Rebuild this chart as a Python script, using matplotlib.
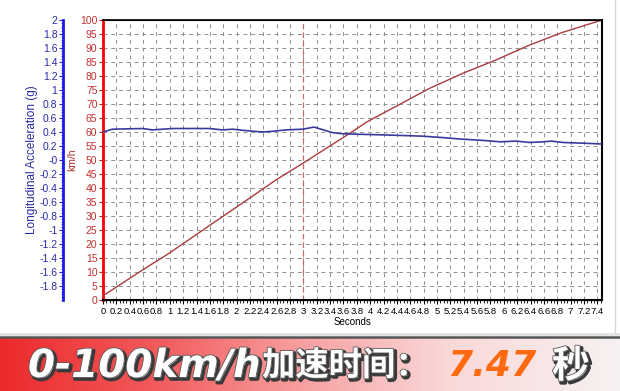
import numpy as np
import matplotlib
matplotlib.use('Agg')
import matplotlib.pyplot as plt
import matplotlib.patheffects as pe
from matplotlib.ticker import MultipleLocator, FormatStrFormatter
from matplotlib.colors import LinearSegmentedColormap
from matplotlib.lines import Line2D

# --- data ---
t_speed = [0, 0.59, 0.99, 1.79, 2.19, 2.59, 2.99, 3.66, 3.95, 4.89, 5.39, 5.88, 6.38, 6.87, 7.47]
speed_kmh = [1.5, 10.7, 16.7, 29.8, 36.3, 42.9, 48.8, 59.0, 63.6, 75.6, 81.0, 85.7, 91.0, 95.5, 100]

t_acc = [0, 0.14, 0.59, 0.74, 1.04, 1.59, 1.79, 1.94, 2.14, 2.39, 2.54, 2.74, 2.99, 3.16,
         3.44, 3.59, 3.74, 4.14, 4.49, 4.79, 5.09, 5.34, 5.69, 5.94, 6.19, 6.39, 6.59,
         6.71, 6.89, 7.19, 7.44, 7.47]
acc_g = [0.40, 0.44, 0.45, 0.43, 0.45, 0.45, 0.43, 0.44, 0.42, 0.40, 0.41, 0.43, 0.44, 0.47,
         0.39, 0.375, 0.37, 0.36, 0.35, 0.34, 0.32, 0.30, 0.28, 0.26, 0.27, 0.25, 0.26,
         0.27, 0.25, 0.24, 0.23, 0.23]

marker_t = 3.0
result_time = '7.47'

W, H = 620, 391
fig = plt.figure(figsize=(W / 100, H / 100), dpi=100)
fig.patch.set_facecolor('white')

# --- speed axis (main) ---
ax = fig.add_axes([103 / W, 91 / H, 499 / W, 280 / H])
ax.plot(t_speed, speed_kmh, color='#a83c40', lw=1.0, zorder=3)
ax.axvline(marker_t, color='#c86a6a', lw=0.9, ls=(0, (4, 3)), zorder=2)
ax.set_xlim(0, 7.47)
ax.set_ylim(0, 100)
ax.xaxis.set_major_locator(MultipleLocator(0.2))
ax.xaxis.set_minor_locator(MultipleLocator(0.05))
ax.xaxis.set_major_formatter(FormatStrFormatter('%g'))
ax.yaxis.set_major_locator(MultipleLocator(5))
ax.grid(True, color='#8f8f8f', ls=(0, (4, 4)), lw=0.7)
ax.tick_params(axis='x', labelsize=6.8, length=3, width=0.8, pad=2, colors='black')
ax.tick_params(axis='x', which='minor', length=2, width=0.6)
ax.tick_params(axis='y', labelsize=7.5, length=3, width=0.8, pad=1,
               colors='#b01e1e', labelcolor='#c03030')
for lab in ax.get_xticklabels():
    lab.set_fontfamily('Liberation Sans')
for lab in ax.get_yticklabels():
    lab.set_fontfamily('Liberation Sans')
ax.spines['left'].set_color('#ff0000')
ax.spines['left'].set_linewidth(2)
ax.spines['bottom'].set_linewidth(1.5)
ax.spines['top'].set_linewidth(1.2)
ax.spines['right'].set_linewidth(1.5)
ax.set_xlabel('Seconds', fontsize=7, family='Liberation Sans', labelpad=1)
ax.set_ylabel('km/h', fontsize=7.5, family='Liberation Sans', color='#b03030', labelpad=2)

# --- acceleration axis ---
ax2 = ax.twinx()
ax2.plot(t_acc, acc_g, color='#3a3a9e', lw=1.2, zorder=3)
ax2.set_ylim(-2, 2)
ax2.yaxis.set_ticks_position('left')
ax2.yaxis.set_label_position('left')
ax2.spines['right'].set_visible(False)
ax2.spines['left'].set_visible(True)
ax2.spines['left'].set_position(('outward', 28.8))
ax2.spines['left'].set_color('#1a1aee')
ax2.spines['left'].set_linewidth(2)
ax2.set_yticks(np.round(np.arange(-1.8, 2.01, 0.2), 1))
ax2.yaxis.set_minor_locator(MultipleLocator(0.04))
ax2.yaxis.set_major_formatter(FormatStrFormatter('%g'))
ax2.tick_params(axis='y', labelsize=7.5, length=3, width=0.8, pad=1,
                colors='#2020cc', labelcolor='#2a2aa8')
ax2.tick_params(axis='y', which='minor', length=1.5, width=0.5, colors='#2020cc')
for lab in ax2.get_yticklabels():
    lab.set_fontfamily('Liberation Sans')
ax2.set_ylabel('Longitudinal Acceleration (g)', fontsize=8.5, family='Liberation Sans',
               color='#2a2aa0', labelpad=1)

# --- frame lines ---
fig.add_artist(Line2D([615 / W, 615 / W], [(H - 336) / H, 1], color='#d8d8d8', lw=1))
fig.add_artist(Line2D([0, 1], [(H - 334) / H] * 2, color='#e2e2e2', lw=2))
fig.add_artist(Line2D([0, 1], [(H - 337) / H] * 2, color='#555555', lw=1.8))

# --- banner ---
bax = fig.add_axes([0, 0, 1, (H - 338) / H])
cmap = LinearSegmentedColormap.from_list(
    'banner', [(0, '#ec2a2c'), (0.25, '#f25a5c'), (0.5, '#f7a3a4'),
               (0.72, '#fad8d8'), (1, '#f7f1f1')])
grad = np.tile(np.linspace(0, 1, 256), (8, 1))
bax.imshow(grad, aspect='auto', cmap=cmap, extent=[0, W, 0, 53])
bax.set_xlim(0, W)
bax.set_ylim(0, 53)
bax.axis('off')

shadow = [pe.Stroke(linewidth=2.5, foreground='#3a3a3a', offset=(1.5, -1.5)),
          pe.Stroke(linewidth=1.2, foreground='#5a5a5a'), pe.Normal()]
ty = 25
bax.text(28, ty, '0-100km/h', fontsize=28, color='white', fontweight='bold',
         style='italic', family='DejaVu Sans', va='center', ha='left', path_effects=shadow)
bax.text(262, ty, '加速时间：', fontsize=24, color='white', fontweight='black',
         family=['Noto Sans CJK SC', 'DejaVu Sans'], va='center', ha='left',
         path_effects=shadow)
bax.text(447, ty, result_time, fontsize=26, color='#ff6a10', fontweight='bold',
         style='italic', family='DejaVu Sans', va='center', ha='left')
bax.text(552, ty, '秒', fontsize=27, color='white', fontweight='black',
         family=['Noto Sans CJK SC', 'DejaVu Sans'], va='center', ha='left',
         path_effects=shadow)

fig.savefig('out.png', dpi=100)
